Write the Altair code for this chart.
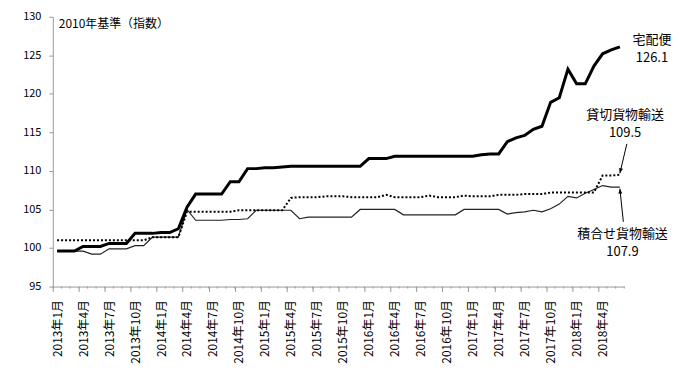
import altair as alt
import pandas as pd

FONT = "Noto Sans CJK JP"

# tick labels (every 3 months)
month_labels = [
    "2013年1月", "2013年4月", "2013年7月", "2013年10月",
    "2014年1月", "2014年4月", "2014年7月", "2014年10月",
    "2015年1月", "2015年4月", "2015年7月", "2015年10月",
    "2016年1月", "2016年4月", "2016年7月", "2016年10月",
    "2017年1月", "2017年4月", "2017年7月", "2017年10月",
    "2018年1月", "2018年4月",
]

# 宅配便 (2013-01 .. 2018-06, monthly)
takuhai = [
    99.6, 99.6, 99.6, 100.2, 100.2, 100.2, 100.6, 100.6, 100.6, 101.9, 101.9, 101.9,
    102.0, 102.0, 102.5, 105.3, 107.0, 107.0, 107.0, 107.0, 108.6, 108.6, 110.3, 110.3,
    110.4, 110.4, 110.5, 110.6, 110.6, 110.6, 110.6, 110.6, 110.6, 110.6, 110.6, 110.6,
    111.6, 111.6, 111.6, 111.9, 111.9, 111.9, 111.9, 111.9, 111.9, 111.9, 111.9, 111.9,
    111.9, 112.1, 112.2, 112.2, 113.8, 114.3, 114.6, 115.4, 115.8, 118.9, 119.5, 123.2,
    121.3, 121.3, 123.6, 125.2, 125.7, 126.1,
]

# 貸切貨物輸送
kashikiri = [
    101.0, 101.0, 101.0, 101.0, 101.0, 101.0, 101.0, 101.0, 101.0, 101.0, 101.0, 101.4,
    101.4, 101.4, 101.4, 104.7, 104.7, 104.7, 104.7, 104.7, 104.7, 104.9, 104.9, 104.9,
    104.9, 104.9, 104.9, 106.5, 106.6, 106.6, 106.6, 106.7, 106.7, 106.7, 106.6, 106.6,
    106.6, 106.6, 106.9, 106.6, 106.6, 106.6, 106.6, 106.8, 106.6, 106.6, 106.6, 106.8,
    106.7, 106.7, 106.7, 106.9, 106.9, 106.9, 107.0, 107.0, 107.0, 107.2, 107.2, 107.2,
    107.2, 107.2, 107.2, 109.4, 109.4, 109.5,
]

# 積合せ貨物輸送
tsumiawase = [
    99.6, 99.6, 99.6, 99.6, 99.2, 99.2, 99.9, 99.9, 99.9, 100.3, 100.3, 101.4,
    101.4, 101.4, 101.4, 105.0, 103.6, 103.6, 103.6, 103.6, 103.7, 103.7, 103.8, 104.9,
    104.9, 104.9, 104.9, 104.9, 103.8, 104.0, 104.0, 104.0, 104.0, 104.0, 104.0, 105.0,
    105.0, 105.0, 105.0, 105.0, 104.3, 104.3, 104.3, 104.3, 104.3, 104.3, 104.3, 105.0,
    105.0, 105.0, 105.0, 105.0, 104.4, 104.6, 104.7, 104.9, 104.7, 105.1, 105.7, 106.7,
    106.5, 107.1, 107.6, 108.1, 107.9, 107.9,
]

header = "2010年基準（指数）"

ann_text = ["宅配便", "126.1", "貸切貨物輸送", "109.5", "積合せ貨物輸送", "107.9"]
ann_x = [68.7, 68.7, 65.6, 65.6, 65.3, 65.3]
ann_y = [127.0, 124.7, 117.3, 114.9, 101.8, 99.5]

# arrows: tail (x, y) -> tip (x2, y2)
arrow_x = [65.8, 65.4]
arrow_y = [113.5, 103.4]
arrow_x2 = [65.0, 65.0]
arrow_y2 = [109.7, 107.7]

n = len(takuhai)
df = pd.DataFrame({"i": list(range(n)), "takuhai": takuhai,
                   "kashikiri": kashikiri, "tsumiawase": tsumiawase})

W, H = 574, 271
half = W / n / 2

xscale = alt.Scale(domain=[-0.5, n - 0.5], nice=False, zero=False)
yscale = alt.Scale(domain=[95, 130], nice=False, zero=False)

label_expr = "[" + ",".join("'" + s + "'" for s in month_labels) + "][datum.value/3]"

xaxis = alt.Axis(values=list(range(0, n, 3)), labelExpr=label_expr, labelAngle=270,
                 tickOffset=-half, labelOffset=half, tickSize=5, tickColor="#999",
                 domainColor="#999", labelPadding=8, grid=False, title=None,
                 labelFont=FONT, labelFontSize=12, labelColor="#000")
yaxis = alt.Axis(values=list(range(95, 131, 5)), tickSize=4, tickColor="#999",
                 domainColor="#999", labelPadding=8, grid=False, title=None,
                 labelFont=FONT, labelFontSize=11, labelColor="#000")


def X(field):
    return alt.X(field, type="quantitative", scale=xscale, axis=xaxis)


def Y(field):
    return alt.Y(field, type="quantitative", scale=yscale, axis=yaxis)


base = alt.Chart(df)
l_tsumi = base.mark_line(color="#222", strokeWidth=1.2).encode(x=X("i"), y=Y("tsumiawase"))
l_kashi = base.mark_line(color="#000", strokeWidth=2, strokeDash=[2, 2]).encode(
    x=X("i"), y=Y("kashikiri"))
l_taku = base.mark_line(color="#000", strokeWidth=3).encode(x=X("i"), y=Y("takuhai"))

bounds = pd.DataFrame({"b": [k - 0.5 for k in range(n + 1)]})
minor = alt.Chart(bounds).mark_rule(color="#999", strokeWidth=1).encode(
    x=X("b"), y=alt.value(H), y2=alt.value(H + 2))

hdr = alt.Chart(pd.DataFrame({"t": [header]})).mark_text(
    align="left", baseline="middle", font=FONT, fontSize=12, color="#000").encode(
    text="t:N", x=alt.value(6), y=alt.value(7))

ann_df = pd.DataFrame({"t": ann_text, "x": ann_x, "y": ann_y})
ann = alt.Chart(ann_df).mark_text(
    align="center", baseline="middle", font=FONT, fontSize=13, color="#000").encode(
    text="t:N", x=X("x"), y=Y("y"))

arr_df = pd.DataFrame({"x": arrow_x, "y": arrow_y, "x2": arrow_x2, "y2": arrow_y2})
arr_line = alt.Chart(arr_df).mark_rule(color="#000", strokeWidth=1).encode(
    x=X("x"), y=Y("y"), x2="x2:Q", y2="y2:Q")

head_down = alt.Chart(arr_df.iloc[[0]]).mark_point(
    shape="M0,0L-0.4,-1L0.4,-1Z", filled=True, size=100, color="#000", opacity=1,
    angle=13).encode(x=X("x2"), y=Y("y2"))
head_up = alt.Chart(arr_df.iloc[[1]]).mark_point(
    shape="M0,0L-0.4,1L0.4,1Z", filled=True, size=100, color="#000", opacity=1,
    angle=355).encode(x=X("x2"), y=Y("y2"))

chart = alt.layer(l_tsumi, l_kashi, l_taku, minor, hdr, ann, arr_line, head_down, head_up).properties(
    width=W, height=H,
    padding={"left": 45, "top": 8, "right": 48, "bottom": 80},
    autosize=alt.AutoSizeParams(type="none"),
).configure_view(stroke="transparent")

chart.save("out.html", embed_options={"renderer": "svg", "actions": False})
